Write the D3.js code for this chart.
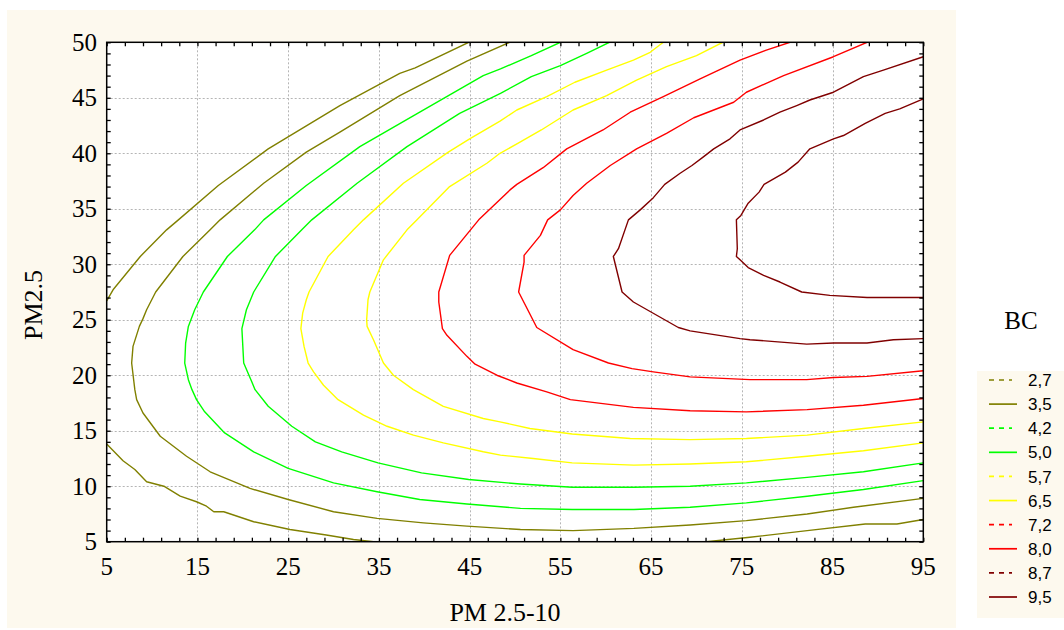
<!DOCTYPE html>
<html><head><meta charset="utf-8">
<script src="https://cdn.jsdelivr.net/npm/d3@7"></script>
<style>html,body{margin:0;padding:0;background:#fff;}svg{display:block;}</style>
</head><body>
<svg id="chart" width="1064" height="630"></svg>
<script>
// ---- data ----
const xTickValues = [5, 15, 25, 35, 45, 55, 65, 75, 85, 95];
const yTickValues = [5, 10, 15, 20, 25, 30, 35, 40, 45, 50];
const levelLabels = ["2,7", "3,5", "4,2", "5,0", "5,7", "6,5", "7,2", "8,0", "8,7", "9,5"];
const levelColors = ["#808000", "#808000", "#00ff00", "#00ff00", "#ffff00", "#ffff00", "#ff0000", "#ff0000", "#800000", "#800000"];

// contour segments: [PM 2.5-10, PM2.5]
const c27 = [
  [[5.0,26.7],[5.7,27.7],[8.7,30.7],[11.6,33.1],[12.9,34.0],[17.3,37.1],[22.8,40.4],[30.7,44.3],[37.3,47.2],[39.0,47.7],[44.9,50.0]],
  [[5.0,13.8],[6.8,12.3],[8.1,11.5],[9.4,10.4],[11.3,10.0],[13.1,9.1],[14.9,8.6],[16.0,8.2],[16.8,7.7],[17.9,7.7],[21.2,6.8],[25.2,6.1],[29.2,5.6],[32.2,5.2],[34.4,5.0]],
  [[71.1,5.0],[75.9,5.4],[82.2,6.0],[88.6,6.6],[92.1,6.6],[95.0,7.0]]
];
const c35 = [
  [[95.0,8.9],[87.3,8.1],[82.2,7.5],[75.5,6.9],[69.3,6.5],[63.1,6.2],[56.4,6.0],[50.6,6.1],[44.7,6.4],[39.9,6.7],[34.8,7.1],[30.0,7.7],[25.0,8.8],[20.8,9.8],[16.4,11.3],[13.8,12.7],[10.9,14.5],[9.0,16.6],[8.3,17.8],[8.1,18.7],[7.75,21.1],[7.9,22.6],[8.6,24.4],[9.0,25.1],[9.4,25.9],[10.4,27.5],[13.4,30.7],[16.4,33.1],[17.5,34.0],[22.3,37.3],[27.0,40.1],[30.7,41.9],[37.3,45.2],[44.7,48.3],[49.4,50.0]]
];
const c42 = [
  [[95.0,10.5],[88.4,9.7],[82.2,9.1],[75.5,8.5],[69.3,8.1],[63.1,7.9],[56.3,7.9],[50.6,8.0],[44.7,8.4],[39.5,8.8],[34.8,9.5],[30.0,10.3],[25.0,11.6],[21.2,13.1],[18.0,14.8],[15.8,16.7],[14.9,17.8],[14.4,18.7],[14.0,19.6],[13.6,21.1],[13.7,22.9],[14.0,24.4],[14.7,25.9],[15.65,27.5],[18.3,30.7],[21.3,33.1],[22.3,34.0],[27.0,37.1],[32.9,40.6],[39.5,43.7],[46.5,47.0],[48.4,47.6],[51.8,48.8],[55.0,50.0]]
];
const c50 = [
  [[95.0,12.1],[88.4,11.3],[82.2,10.8],[75.5,10.3],[69.3,10.0],[63.1,9.9],[56.3,9.9],[50.6,10.2],[44.9,10.6],[39.7,11.2],[34.9,12.1],[30.9,13.1],[28.0,14.0],[25.4,15.4],[22.8,17.2],[21.35,18.7],[21.0,19.4],[20.1,21.1],[19.9,24.2],[20.4,25.9],[21.2,27.5],[23.6,30.7],[26.5,33.1],[27.6,34.0],[32.6,37.3],[38.1,40.6],[43.9,43.6],[48.4,45.4],[51.8,46.9],[55.0,47.9],[57.9,49.0],[60.4,50.0]]
];
const c57 = [
  [[95.0,13.9],[88.4,13.2],[82.2,12.7],[75.5,12.2],[69.3,12.0],[63.1,11.9],[56.3,12.1],[52.0,12.5],[48.4,12.8],[46.5,13.1],[42.1,13.9],[38.8,14.6],[35.9,15.4],[33.3,16.4],[30.5,17.8],[28.9,19.1],[27.8,20.3],[27.2,21.1],[26.75,22.6],[26.4,24.2],[26.6,25.6],[27.0,26.8],[27.3,27.5],[29.4,30.7],[32.2,33.1],[33.3,34.0],[37.7,37.3],[42.65,40.1],[45.0,41.3],[48.35,42.9],[50.2,43.9],[53.5,45.1],[56.6,46.4],[60.1,47.5],[63.05,48.4],[64.9,49.1],[66.35,50.0]]
];
const c65 = [
  [[95.0,15.8],[88.4,15.2],[82.2,14.6],[75.5,14.3],[69.3,14.2],[62.7,14.3],[56.3,14.7],[51.65,15.2],[48.35,15.8],[46.5,16.1],[42.1,17.2],[38.8,18.7],[36.6,20.0],[35.5,21.1],[34.4,23.2],[33.7,24.4],[33.65,25.0],[33.8,26.8],[34.0,27.5],[35.5,30.4],[38.1,33.1],[39.2,34.0],[42.8,37.0],[46.9,39.1],[48.35,40.0],[50.55,41.0],[52.9,42.1],[56.4,43.9],[60.1,45.2],[63.4,46.6],[66.7,47.8],[70.0,48.8],[72.9,50.0]]
];
const c72 = [
  [[95.0,17.9],[88.4,17.3],[82.2,16.9],[75.5,16.7],[69.3,16.8],[63.05,17.1],[56.1,17.8],[53.5,18.5],[50.2,19.3],[48.0,20.0],[45.6,21.0],[44.7,21.7],[42.5,23.6],[42.0,24.2],[41.6,26.6],[41.6,27.5],[42.8,30.8],[46.0,34.0],[49.45,36.7],[50.2,37.2],[53.1,38.7],[55.7,40.4],[59.7,42.1],[62.7,43.7],[66.35,45.1],[70.4,46.7],[74.8,48.4],[77.7,49.3],[80.3,50.0]]
];
const c80 = [
  [[95.0,20.4],[88.8,19.9],[85.1,19.8],[82.15,19.6],[75.9,19.6],[69.3,19.85],[65.25,20.3],[62.9,20.6],[60.3,21.1],[56.4,22.3],[52.4,24.3],[50.4,27.5],[51.0,30.2],[51.0,30.8],[52.8,32.6],[53.6,34.0],[55.0,34.9],[56.4,36.2],[57.9,37.3],[60.5,38.9],[63.4,40.4],[66.7,41.8],[69.7,43.2],[74.1,44.6],[75.5,45.5],[79.6,47.0],[85.1,48.7],[88.8,50.0]]
];
const c87 = [
  [[95.0,23.3],[91.7,23.2],[88.8,22.9],[85.1,22.9],[82.15,22.8],[75.9,23.2],[74.8,23.3],[69.3,24.0],[68.0,24.3],[63.05,26.6],[61.8,27.5],[60.84,30.7],[61.4,31.4],[62.5,34.0],[63.8,34.9],[65.25,36.0],[66.5,37.2],[68.2,38.2],[69.5,38.9],[70.8,39.7],[71.9,40.4],[73.7,41.3],[74.8,42.1],[77.4,43.0],[79.2,43.7],[81.05,44.3],[82.5,44.8],[85.1,45.5],[88.4,46.9],[90.6,47.5],[95.0,48.7]]
];
const c95 = [
  [[95.0,27.0],[88.8,27.0],[84.7,27.2],[81.6,27.5],[79.2,28.4],[77.4,29.0],[75.7,29.7],[74.8,30.4],[74.4,30.7],[74.5,31.4],[74.4,34.0],[74.9,34.4],[75.7,35.5],[76.9,36.5],[77.45,37.2],[79.8,38.3],[81.2,39.2],[82.5,40.4],[85.1,41.3],[86.2,41.6],[88.6,42.7],[90.8,43.6],[92.4,44.0],[95.0,44.9]]
];
const contourSets = [c27, c35, c42, c50, c57, c65, c72, c80, c87, c95];

// ---- layout ----
const svg = d3.select("#chart");
const L = 106.7, R = 923.3, T = 42.3, B = 541.7;
const x = d3.scaleLinear().domain([5, 95]).range([L, R]);
const y = d3.scaleLinear().domain([5, 50]).range([B, T]);
const serif = "'Liberation Serif', 'Times New Roman', serif";

// cream background panel
svg.append("rect").attr("x", 7).attr("y", 10).attr("width", 949).attr("height", 618).attr("fill", "#fdf9ee");
// plot area
svg.append("rect").attr("x", L).attr("y", T).attr("width", R - L).attr("height", B - T).attr("fill", "#ffffff");

// grid
const grid = svg.append("g").attr("stroke", "#b5b5b5").attr("stroke-width", 1).attr("stroke-dasharray", "2,2");
grid.selectAll(".gx").data(xTickValues.slice(1, -1)).join("line")
  .attr("x1", d => Math.round(x(d)) + 0.5).attr("x2", d => Math.round(x(d)) + 0.5).attr("y1", T).attr("y2", B);
grid.selectAll(".gy").data(yTickValues.slice(1, -1)).join("line")
  .attr("y1", d => Math.round(y(d)) + 0.5).attr("y2", d => Math.round(y(d)) + 0.5).attr("x1", L).attr("x2", R);

// contours
svg.append("clipPath").attr("id", "clip").append("rect").attr("x", L).attr("y", T).attr("width", R - L).attr("height", B - T);
const line = d3.line().x(d => x(d[0])).y(d => y(d[1]));
const cg = svg.append("g").attr("clip-path", "url(#clip)").attr("fill", "none").attr("stroke-width", 1.4).attr("stroke-linejoin", "round");
contourSets.forEach((segs, i) => {
  cg.selectAll(null).data(segs).join("path").attr("d", line).attr("stroke", levelColors[i]);
});

// axes with inward ticks
const minorX = d3.range(5, 95.01, 2);
const minorY = d3.range(5, 50.01, 1);
const axG = svg.append("g");
axG.append("g").attr("transform", `translate(0,${B})`)
  .call(d3.axisBottom(x).tickValues(minorX).tickSizeInner(-4).tickSizeOuter(0).tickFormat(""));
axG.append("g").attr("transform", `translate(0,${T})`)
  .call(d3.axisTop(x).tickValues(minorX).tickSizeInner(-4).tickSizeOuter(0).tickFormat(""));
axG.append("g").attr("transform", `translate(${L},0)`)
  .call(d3.axisLeft(y).tickValues(minorY).tickSizeInner(-4).tickSizeOuter(0).tickFormat(""));
axG.append("g").attr("transform", `translate(${R},0)`)
  .call(d3.axisRight(y).tickValues(minorY).tickSizeInner(-4).tickSizeOuter(0).tickFormat(""));
axG.selectAll(".domain").remove();
axG.selectAll(".tick line").attr("stroke", "#000").attr("stroke-width", 1.3);
svg.append("rect").attr("x", L).attr("y", T).attr("width", R - L).attr("height", B - T)
  .attr("fill", "none").attr("stroke", "#000").attr("stroke-width", 1.5);

// tick labels
svg.append("g").selectAll("text").data(xTickValues).join("text")
  .attr("x", d => x(d)).attr("y", 575).attr("text-anchor", "middle")
  .attr("font-family", serif).attr("font-size", 25).attr("fill", "#000").text(d => d);
svg.append("g").selectAll("text").data(yTickValues).join("text")
  .attr("x", 97).attr("y", d => y(d)).attr("dy", "0.34em").attr("text-anchor", "end")
  .attr("font-family", serif).attr("font-size", 25).attr("fill", "#000").text(d => d);

// axis titles
svg.append("text").attr("x", 505).attr("y", 621).attr("text-anchor", "middle")
  .attr("font-family", serif).attr("font-size", 26).attr("fill", "#000").text("PM 2.5-10");
svg.append("text").attr("transform", "translate(42,305) rotate(-90)").attr("text-anchor", "middle")
  .attr("font-family", serif).attr("font-size", 26).attr("fill", "#000").text("PM2.5");

// legend
svg.append("text").attr("x", 1021).attr("y", 329).attr("text-anchor", "middle")
  .attr("font-family", serif).attr("font-size", 25).attr("fill", "#000").text("BC");
svg.append("rect").attr("x", 977).attr("y", 371).attr("width", 87).attr("height", 247).attr("fill", "#fdf9ee");
const ly = d3.scalePoint().domain(levelLabels).range([380, 597]);
const lg = svg.append("g");
lg.selectAll("line").data(levelLabels).join("line")
  .attr("x1", 989).attr("x2", 1017).attr("y1", d => ly(d)).attr("y2", d => ly(d))
  .attr("stroke", (d, i) => levelColors[i]).attr("stroke-width", 1.7)
  .attr("stroke-dasharray", (d, i) => i % 2 === 0 ? "5,5,5,5,3" : null);
lg.selectAll("text").data(levelLabels).join("text")
  .attr("x", 1028).attr("y", d => ly(d)).attr("dy", "0.36em")
  .attr("font-family", "'Liberation Sans', Arial, sans-serif").attr("font-size", 17).attr("fill", "#000").text(d => d);
</script>
</body></html>
